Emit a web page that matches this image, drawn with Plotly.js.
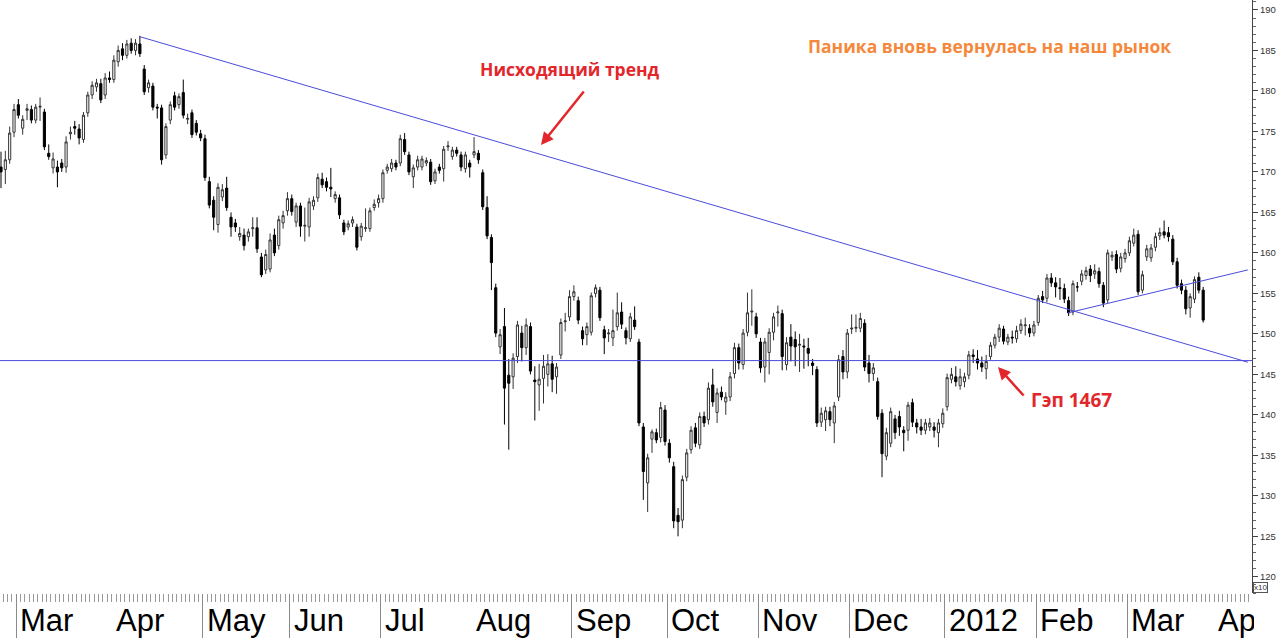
<!DOCTYPE html>
<html><head><meta charset="utf-8">
<script src="https://cdn.plot.ly/plotly-3.0.1.min.js"></script>
<style>html,body{margin:0;padding:0;background:#fff}#chart{width:1280px;height:638px}</style>
</head><body><div id="chart"></div>
<script>
// ---- data (index x10), one candle per trading session ----
const openV = [
170.6,170.3,171.5,174.9,178.3,175.4,177.6,177.7,176.4,178.0,177.4,172.3,170.5,170.6,171.1,170.6,174.7,175.6,175.3,174.0,177.3,179.5,180.5,180.9,179.5,181.6,181.4,
183.6,185.2,184.4,185.9,185.0,185.8,182.7,180.4,180.6,178.0,177.9,172.1,176.4,179.4,178.3,179.8,176.5,177.3,176.0,174.7,
174.1,168.8,166.5,163.5,166.9,168.0,164.4,163.7,162.0,162.2,
162.0,163.0,163.1,159.5,157.9,158.0,162.2,160.9,163.7,165.2,
166.7,163.8,165.8,163.3,163.2,165.8,166.8,169.1,168.8,168.1,
166.7,166.8,163.7,163.2,163.7,163.2,162.0,163.0,163.0,165.6,
166.2,166.7,170.2,170.4,171.1,171.1,174.0,172.1,169.4,170.6,
170.6,171.1,171.2,168.9,170.6,170.4,173.1,171.9,172.7,172.1,
170.4,171.1,172.1,172.3,169.9,
165.6,161.9,155.7,148.4,150.9,144.9,144.7,147.2,150.1,148.3,
150.9,144.3,143.7,144.5,145.0,146.3,144.7,147.4,151.5,152.1,
154.6,154.1,150.4,149.9,150.2,155.0,155.4,150.5,150.0,149.5,
150.9,152.7,150.4,149.4,151.7,149.0,138.5,
131.6,137.0,137.8,137.2,140.6,136.5,133.6,127.6,127.0,132.3,
135.7,138.4,136.3,139.8,139.4,143.7,140.3,142.8,141.6,142.2,
145.1,148.3,146.2,150.2,152.7,152.1,149.0,145.9,147.7,150.2,
152.6,152.5,146.2,149.6,149.3,148.6,148.5,148.2,146.4,145.6,
139.1,139.4,140.4,139.0,142.2,147.2,145.3,150.6,150.7,150.7,
151.3,146.4,145.1,144.1,140.2,134.9,136.5,139.5,139.8,138.1,
138.1,141.5,139.0,138.5,138.1,138.5,138.5,137.8,138.9,141.0,
144.4,144.7,143.6,144.1,144.9,147.4,146.9,146.4,145.7,147.2,
148.6,149.6,150.6,149.0,149.6,149.4,150.4,151.0,150.7,150.1,
151.4,154.6,154.4,156.9,156.3,155.7,155.6,154.1,152.7,155.8,
156.5,157.2,158.0,157.4,157.7,156.0,154.2,159.5,159.8,158.1,
159.3,160.0,161.2,162.3,155.4,159.5,159.4,160.7,162.1,162.6,
162.5,161.7,158.9,156.2,155.4,153.2,154.3,157.0,155.4];
const highV = [
172.5,172.6,175.6,178.4,179.0,177.0,178.4,178.2,178.4,179.2,177.8,173.4,172.4,171.4,171.6,174.4,175.6,176.3,175.9,177.4,179.9,181.2,181.5,181.5,182.2,182.4,184.4,
185.6,185.9,186.3,186.5,186.4,186.8,183.2,181.4,181.0,178.4,178.3,176.0,178.7,179.9,179.7,181.4,177.2,177.7,176.4,175.2,
174.6,169.4,167.0,168.6,168.5,169.4,165.0,164.2,163.2,163.0,
163.0,164.4,164.4,160.0,160.4,162.4,163.0,164.6,165.2,167.5,
167.2,166.2,166.2,165.6,166.8,167.0,169.8,169.9,169.3,170.5,
167.6,167.2,164.1,164.0,164.5,163.6,163.7,165.5,165.6,166.6,
167.2,170.3,171.0,171.6,171.5,174.6,174.8,172.5,170.9,172.0,
172.0,171.8,171.6,170.4,171.0,173.2,173.8,173.1,173.1,172.5,
172.5,171.5,174.3,172.7,170.3,
167.0,162.3,156.2,150.6,153.2,146.9,147.6,151.6,151.0,151.9,
151.4,146.0,146.3,147.4,147.5,147.3,146.4,151.9,152.6,155.4,
156.0,154.6,150.9,151.4,155.1,156.1,155.8,151.0,150.6,153.0,
155.1,153.9,150.8,152.6,153.4,149.4,139.0,
135.2,138.2,138.3,141.6,141.2,137.0,134.2,128.5,132.5,135.8,
138.6,139.0,140.3,140.4,144.0,145.7,143.3,143.5,142.8,145.3,
148.9,148.8,150.6,155.1,155.5,152.6,149.5,149.5,150.7,152.6,
153.5,153.0,149.6,151.2,150.3,150.0,149.4,149.5,146.9,146.0,
140.9,141.0,141.0,141.6,147.4,148.0,150.6,152.4,152.4,152.6,
151.8,147.4,146.4,144.6,140.7,138.4,140.9,140.0,140.5,138.6,
141.6,142.0,139.5,139.5,139.5,139.6,139.1,139.5,140.8,145.1,
145.8,146.0,145.7,145.2,147.9,148.1,148.0,147.2,147.4,149.0,
150.0,151.2,151.0,150.0,150.4,151.0,151.8,152.0,151.2,151.6,
154.8,155.3,157.4,157.5,157.0,156.9,156.2,154.6,156.6,156.4,
157.9,158.3,158.5,158.6,158.2,156.4,160.4,160.2,160.3,160.0,
160.5,162.0,163.0,162.8,157.8,161.0,161.1,162.5,163.1,164.0,
163.2,162.2,159.4,156.7,155.9,155.0,157.1,157.6,155.8];
const lowV = [
168.0,168.5,171.0,174.3,176.6,174.6,176.4,176.0,176.0,176.3,172.7,171.5,169.8,168.1,170.0,169.9,174.0,174.6,173.4,173.6,176.8,179.0,179.9,178.5,179.0,181.0,181.0,
183.0,183.8,184.0,184.6,184.4,184.2,179.5,179.8,177.6,176.6,170.9,171.6,175.9,177.6,177.8,176.6,175.9,174.2,174.5,173.8,
168.9,165.5,162.8,162.5,166.4,165.2,162.0,162.6,161.5,160.3,
161.4,162.0,160.0,157.0,157.4,157.6,159.6,160.4,163.0,164.6,
164.6,163.2,162.0,161.4,162.0,165.3,166.3,168.0,167.6,166.9,
166.2,164.2,162.2,162.8,163.2,160.3,161.5,162.6,162.6,165.2,
165.6,166.2,169.8,170.0,170.2,170.7,172.1,169.6,168.0,170.2,
170.2,170.7,168.4,168.5,169.8,168.8,172.6,171.5,171.9,170.1,
169.9,169.3,171.7,171.0,165.3,
161.7,155.4,149.6,147.5,138.8,135.7,143.2,146.4,146.6,147.4,
145.0,139.3,140.5,141.4,143.5,142.8,142.6,146.9,150.3,151.6,
154.1,151.2,148.6,148.6,149.8,154.5,151.6,147.5,149.0,148.5,
150.4,150.6,148.7,149.0,150.5,138.6,129.5,
128.0,135.3,136.5,136.6,136.2,134.1,126.0,125.0,126.0,131.8,
135.2,136.0,135.8,138.5,138.8,141.0,139.0,141.8,140.0,141.7,
144.5,145.6,145.6,149.7,151.0,149.5,145.2,144.0,145.0,149.2,
150.9,145.5,145.5,146.6,146.0,145.3,145.7,146.0,144.9,138.5,
138.5,138.0,138.6,136.5,141.7,144.4,144.5,150.0,150.2,150.2,
145.4,144.0,144.2,139.4,132.3,134.4,136.0,137.0,137.4,135.5,
136.8,138.5,137.7,137.5,137.6,138.0,137.2,136.0,138.4,140.5,
143.9,143.5,143.1,143.4,144.4,146.4,145.6,145.3,144.4,146.8,
148.2,149.0,148.7,148.6,148.8,148.9,150.0,149.8,149.6,149.7,
151.0,153.8,153.9,155.8,154.5,154.2,153.8,152.2,152.3,155.2,
156.0,156.7,156.4,156.8,155.7,153.3,153.8,159.0,157.5,157.6,
158.8,159.6,160.8,154.8,155.0,159.0,158.9,160.2,161.6,161.8,
161.4,158.5,155.6,154.9,152.4,152.0,153.8,155.0,151.4];
const closeV = [
170.0,171.5,174.8,177.7,177.0,176.5,177.8,176.4,178.0,178.1,173.1,171.9,171.6,170.0,170.5,173.7,174.9,175.4,174.2,177.0,179.5,180.7,181.0,178.9,181.6,181.4,183.8,
185.0,184.4,185.8,185.0,185.9,184.6,179.9,181.0,178.0,177.9,171.5,175.6,178.3,178.0,179.3,177.0,176.6,174.6,174.9,174.2,
169.3,165.9,164.4,168.1,167.8,165.6,163.2,163.2,162.4,160.9,
162.6,163.1,160.5,157.3,159.8,161.6,160.0,164.1,164.6,166.7,
165.1,165.8,163.3,163.4,166.3,166.5,169.3,168.4,168.1,167.9,
167.2,164.7,162.6,163.6,164.1,160.7,163.3,163.1,165.2,166.0,
166.7,169.9,170.6,171.1,170.6,174.1,172.5,170.0,170.5,171.5,
171.6,171.4,168.8,170.0,170.2,172.8,173.2,172.7,172.3,170.6,
172.1,170.6,172.5,171.5,165.7,
162.1,158.8,150.1,149.9,143.3,143.9,147.0,151.1,148.3,151.1,
145.4,144.1,144.4,146.0,146.3,144.4,145.9,151.4,151.6,154.6,
155.2,151.7,149.4,150.9,154.7,155.7,152.0,149.5,150.1,150.4,
152.6,151.2,149.5,152.1,150.9,139.0,133.0,
134.7,137.9,136.9,140.9,136.7,134.7,126.9,126.8,132.0,135.3,
138.1,136.5,139.8,139.0,143.3,141.6,142.7,142.2,142.2,144.7,
148.3,146.4,150.1,152.6,152.8,150.0,145.8,149.0,150.2,152.1,
152.7,147.2,148.9,148.5,148.4,148.7,148.4,147.6,146.1,139.0,
140.2,140.5,139.4,141.1,146.8,145.3,150.1,150.7,150.8,151.9,
145.9,145.1,145.8,139.8,135.2,137.8,140.4,137.8,138.5,137.8,
141.2,139.1,138.5,138.1,139.0,139.0,138.1,139.0,140.2,144.6,
145.0,144.1,144.7,144.7,147.4,147.2,146.4,145.9,146.6,148.6,
149.6,150.7,149.1,149.6,149.5,150.4,151.2,151.1,150.1,151.1,
154.4,154.2,156.9,156.3,155.8,155.6,154.3,152.6,156.2,155.8,
157.4,157.8,157.2,157.8,156.2,153.8,160.0,159.7,158.0,159.5,
160.0,161.5,162.2,155.2,157.3,160.5,160.6,162.0,162.5,162.2,
162.0,158.9,156.0,155.4,153.1,154.6,156.7,155.4,151.7];

// month labels and the session index where each month begins
const monthLabels = ['Mar','Apr','May','Jun','Jul','Aug','Sep','Oct','Nov','Dec','2012','Feb','Mar','Apr'];
const monthStart  = [4,26,47,67,88,109,132,154,175,196,218,239,260,280];
const monthDivider = [1,0,1,1,1,0,1,1,1,1,1,1,1,0];

// drawn levels / trend lines (session index, value)
const gapLevel = 146.7;
const trendX = [32, 287.3], trendY = [186.7, 146.5];
const supportX = [245.9, 287.3], supportY = [152.6, 157.9];

const yTicks = [120,125,130,135,140,145,150,155,160,165,170,175,180,185,190];

// ---- build ----
const idx = openV.map((_, i) => i);
const xRange = [-0.23, 288.25];
const plotW = 1252;

const traces = [
  {type:'candlestick', x: idx, open: openV, high: highV, low: lowV, close: closeV,
   increasing:{line:{color:'#333333', width:1}, fillcolor:'#ffffff'},
   decreasing:{line:{color:'#000000', width:1}, fillcolor:'#000000'},
   whiskerwidth:0, hoverinfo:'skip', showlegend:false},
  {type:'scatter', mode:'lines', x: trendX, y: trendY, line:{color:'#4b4bdc', width:1}, hoverinfo:'skip', showlegend:false},
  {type:'scatter', mode:'lines', x: supportX, y: supportY, line:{color:'#4b4bdc', width:1}, hoverinfo:'skip', showlegend:false}
];

const annotations = [];
monthLabels.forEach((lab, k) => {
  const xv = monthStart[k] - 0.5;
  const leftPx = (xv - xRange[0]) / (xRange[1] - xRange[0]) * plotW + 2;
  const a = {text: lab, xref:'x', yref:'paper', x: xv, y: -0.046, xanchor:'left', yanchor:'middle',
    xshift: 2, showarrow:false, align:'left',
    font:{family:'Liberation Sans, Arial, sans-serif', size:31, color:'#000'}};
  if (leftPx > plotW - 60) a.width = Math.max(10, plotW - leftPx);
  annotations.push(a);
});
const red = '#e3262b';
const txtFont = 'Open Sans, Arial, sans-serif';
annotations.push(
  {text:'<b>Нисходящий тренд</b>', xref:'paper', yref:'paper', x:0.4553, y:0.8836, xanchor:'center', yanchor:'middle', showarrow:false,
   font:{family:txtFont, size:17.5, color:red}},
  {text:'', xref:'paper', yref:'paper', x:0.4321, y:0.7555, ax:44, ay:-55, showarrow:true,
   arrowhead:2, arrowsize:1, arrowwidth:2.5, arrowcolor:red},
  {text:'<b>Паника вновь вернулась на наш рынок</b>', xref:'paper', yref:'paper', x:0.7907, y:0.9224, xanchor:'center', yanchor:'middle', showarrow:false,
   font:{family:txtFont, size:17.5, color:'#f5883a'}},
  {text:'<b>Гэп 1467</b>', xref:'paper', yref:'paper', x:0.8562, y:0.3255, xanchor:'center', yanchor:'middle', showarrow:false,
   font:{family:txtFont, size:19, color:red}},
  {text:'', xref:'paper', yref:'paper', x:0.7971, y:0.3811, ax:27, ay:30, showarrow:true,
   arrowhead:2, arrowsize:1, arrowwidth:2.5, arrowcolor:red},
  {text:'x10', xref:'paper', yref:'paper', x:1.0064, y:0.0085, xanchor:'center', yanchor:'middle', showarrow:false,
   bordercolor:'#555', borderwidth:1, borderpad:0,
   font:{family:'Liberation Sans, Arial, sans-serif', size:8, color:'#333'}}
);

const layout = {
  width:1280, height:638, margin:{l:0, r:28, t:0, b:45},
  paper_bgcolor:'#ffffff', plot_bgcolor:'#ffffff', showlegend:false,
  xaxis:{range:xRange, showgrid:false, zeroline:false, showline:false, fixedrange:true,
    tickmode:'array', tickvals: monthStart.map(v => v - 0.5).filter((v, k) => monthDivider[k]),
    showticklabels:false, ticks:'outside', ticklen:45, tickcolor:'#8a8a8a', tickwidth:1,
    minor:{tickmode:'linear', tick0:-0.5, dtick:1, ticks:'outside', ticklen:8, tickcolor:'#9a9a9a', tickwidth:1},
    rangeslider:{visible:false}},
  yaxis:{side:'right', range:[118, 191.23], showgrid:false, zeroline:false, fixedrange:true,
    showline:true, linecolor:'#444', linewidth:1,
    tickmode:'array', tickvals:yTicks, ticktext:yTicks.map(String),
    ticks:'outside', ticklen:5, tickcolor:'#444', tickwidth:1,
    minor:{tickmode:'linear', tick0:120, dtick:1, ticks:'outside', ticklen:3, tickcolor:'#666', tickwidth:1},
    tickfont:{family:'Liberation Sans, Arial, sans-serif', size:9.5, color:'#333'}},
  shapes:[{type:'line', xref:'paper', yref:'y', x0:0, x1:1, y0:gapLevel, y1:gapLevel, line:{color:'#4b4bdc', width:1}}],
  annotations: annotations
};

Plotly.newPlot('chart', traces, layout, {staticPlot:true, displayModeBar:false});
</script></body></html>
